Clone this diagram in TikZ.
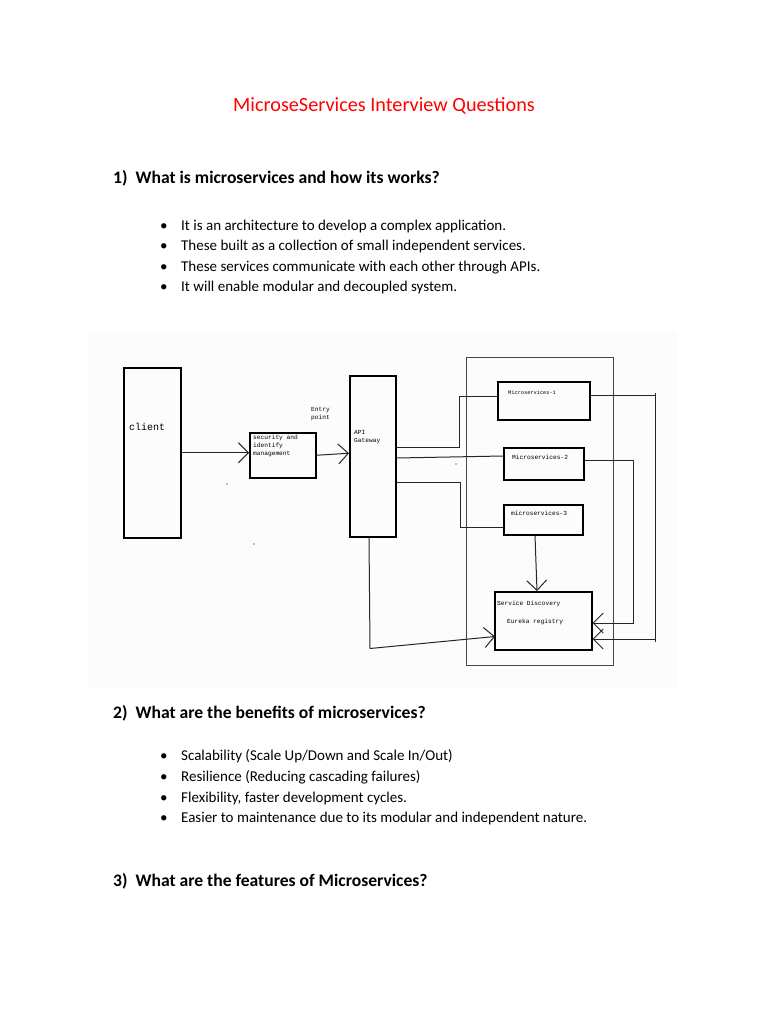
\documentclass[tikz,border=0pt]{standalone}
\usepackage{fontspec}
\setmainfont{Carlito}
\setmonofont{Liberation Mono}
\usepackage{tikz}
\usetikzlibrary{arrows.meta,positioning,calc}
\definecolor{titlered}{RGB}{255,0,0}
\definecolor{shotbg}{RGB}{252,252,252}
\definecolor{wiregray}{RGB}{70,70,70}
\tikzset{
  box/.style={draw, line width=1.5pt, inner sep=0pt, anchor=north west},
  frame/.style={draw=wiregray, line width=1pt, inner sep=0pt, anchor=north west},
  wire/.style={draw=black!85, line width=1pt},
  arr/.style={-{Straight Barb[length=10pt,width=20pt]}},
  mono/.style={font=\ttfamily\fontsize{6.2}{8}\selectfont, align=left, inner sep=0pt},
  prose/.style={font=\fontsize{15}{18}\selectfont, anchor=base west, inner sep=0pt},
  heading/.style={font=\bfseries\fontsize{17.6}{21}\selectfont, anchor=base west, inner sep=0pt}
}
\begin{document}
\begin{tikzpicture}[x=1pt, y=-1pt]
    \useasboundingbox (0,0) rectangle (768,1024);
    \fill[white] (0,0) rectangle (768,1024);

    % Title
    \node[font=\fontsize{20.2}{24}\selectfont, text=titlered, anchor=base, inner sep=0pt] (title) at (384,112) {MicroseServices Interview Questions};

    % Question 1
    \node[heading] (q1) at (113,184) {1)\hspace{8pt}What is microservices and how its works?};
    \node[prose] (a1) at (160,231) {\makebox[21pt][l]{\textbullet}It is an architecture to develop a complex application.};
    \node[prose] (a2) at (160,251) {\makebox[21pt][l]{\textbullet}These built as a collection of small independent services.};
    \node[prose] (a3) at (160,271) {\makebox[21pt][l]{\textbullet}These services communicate with each other through APIs.};
    \node[prose] (a4) at (160,291) {\makebox[21pt][l]{\textbullet}It will enable modular and decoupled system.};

    % Screenshot of the diagram
    \fill[shotbg] (88,330) rectangle (678,688);

    % Boxes
    \node[box, minimum width=57pt, minimum height=170pt] (client) at (123,367) {};
    \node[box, minimum width=66pt, minimum height=45pt] (sec) at (249,432) {};
    \node[box, minimum width=46pt, minimum height=161pt] (api) at (349,375) {};
    \node[frame, minimum width=147pt, minimum height=308pt] (cluster) at (466,357) {};
    \node[box, minimum width=92pt, minimum height=38pt] (ms1) at (497,381) {};
    \node[box, minimum width=80pt, minimum height=32pt] (ms2) at (503,447) {};
    \node[box, minimum width=79pt, minimum height=30pt] (ms3) at (503,504) {};
    \node[box, minimum width=97pt, minimum height=58pt] (sd) at (494,591) {};

    % Labels
    \node[mono, font=\ttfamily\fontsize{10}{12}\selectfont, anchor=west] (clienttxt) at (129,427) {client};
    \node[mono, anchor=north west] (sectxt) at (253,435) {security and\\identify\\management};
    \node[mono, anchor=north west] (entry) at (311,407) {Entry\\point};
    \node[mono, anchor=north west] (apitxt) at (354,430) {API\\Gateway};
    \node[mono, font=\ttfamily\fontsize{5.3}{7}\selectfont, anchor=west] (ms1txt) at (508,393) {Microservices-1};
    \node[mono, anchor=west] (ms2txt) at (512,457) {Microservices-2};
    \node[mono, anchor=west] (ms3txt) at (511,513) {microservices-3};
    \node[mono, anchor=north west] (sdtxt) at (497,601) {Service Discovery\\[10pt]\hspace*{10pt}Eureka registry};

    % Edges
    \draw[wire, arr] (client.east) -- (client.east -| sec.west);
    \draw[wire, arr] (sec.east) -- ($(sec.east -| api.west)+(0,-2)$);
    \draw[wire] ($(api.north east)+(0,72)$) -- ++(63,0) |- ($(ms1.north west)+(0,15)$);
    \draw[wire] ($(api.north east)+(0,83)$) -- ($(ms2.north west)+(0,9)$);
    \draw[wire] ($(api.north east)+(0,107)$) -- ++(64,0) |- ($(ms3.north west)+(0,23)$);
    \draw[wire, arr] ($(ms3.south west)+(32,0)$) -- ($(sd.north west)+(43,0)$);
    \draw[wire, arr] ($(ms2.north east)+(0,13)$) -| ($(sd.north east)+(41,32)$) -- ($(sd.north east)+(0,32)$);
    \draw[wire] ($(ms1.north east)+(0,14)$) -- ++(65,0);
    \draw[wire] ($(ms1.north east)+(65,12)$) -- ($(sd.north east)+(63,51)$);
    \draw[wire, arr] ($(sd.north east)+(63,48)$) -- ($(sd.north east)+(0,48)$);
    \draw[wire, arr] ($(api.south west)+(20,0)$) -- ++(1,111) -- ($(sd.south west)+(1,-14)$);

    % Specks
    \fill (227,484) circle (0.7);
    \fill (254,544) circle (0.7);
    \fill (456,464) circle (0.7);

    % Question 2
    \node[heading] (q2) at (113,718) {2)\hspace{8pt}What are the benefits of microservices?};
    \node[prose] (b1) at (160,760) {\makebox[21pt][l]{\textbullet}Scalability (Scale Up/Down and Scale In/Out)};
    \node[prose] (b2) at (160,781) {\makebox[21pt][l]{\textbullet}Resilience (Reducing cascading failures)};
    \node[prose] (b3) at (160,802) {\makebox[21pt][l]{\textbullet}Flexibility, faster development cycles.};
    \node[prose] (b4) at (160,822) {\makebox[21pt][l]{\textbullet}Easier to maintenance due to its modular and independent nature.};

    % Question 3
    \node[heading] (q3) at (113,886) {3)\hspace{8pt}What are the features of Microservices?};
\end{tikzpicture}
\end{document}
